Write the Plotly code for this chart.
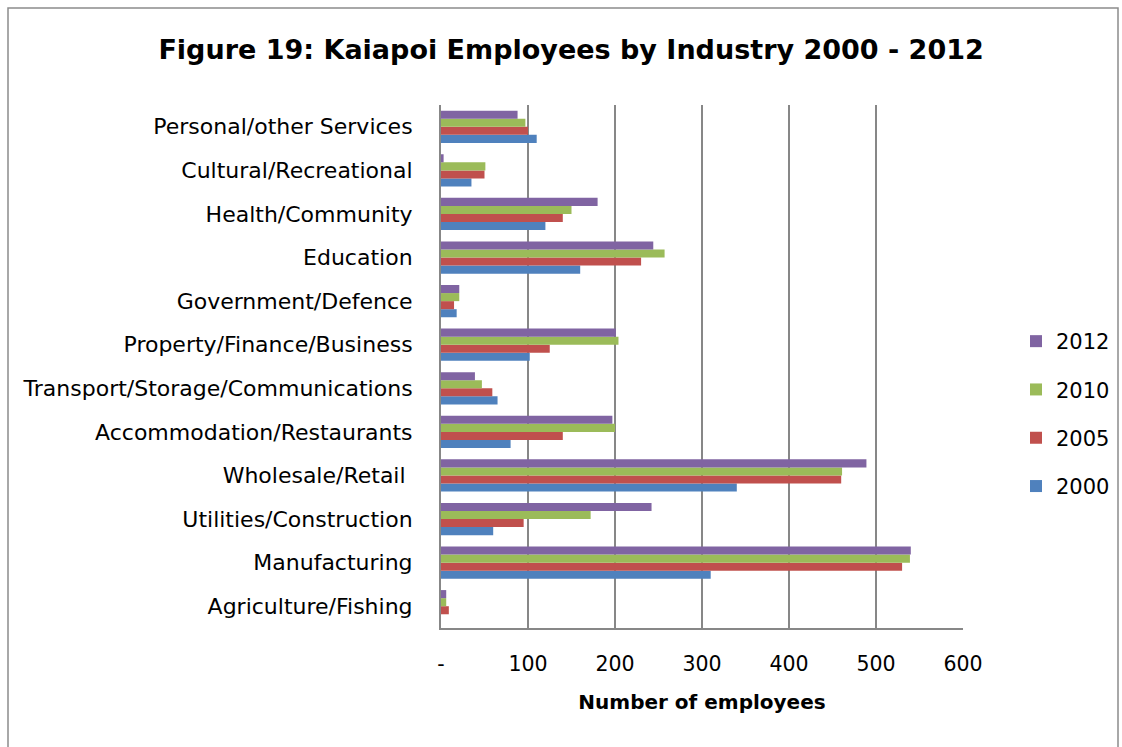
import plotly.graph_objects as go

# Industries, listed top to bottom as they appear on the chart
industries = [
    "Personal/other Services",
    "Cultural/Recreational",
    "Health/Community",
    "Education",
    "Government/Defence",
    "Property/Finance/Business",
    "Transport/Storage/Communications",
    "Accommodation/Restaurants",
    "Wholesale/Retail ",
    "Utilities/Construction",
    "Manufacturing",
    "Agriculture/Fishing",
]

# Employee counts per year (same order as industries)
emp_2000 = [110, 35, 120, 160, 18, 102, 65, 80, 340, 60, 310, 0]
emp_2005 = [100, 50, 140, 230, 15, 125, 59, 140, 460, 95, 530, 9]
emp_2010 = [97, 51, 150, 257, 21, 204, 47, 200, 461, 172, 539, 6]
emp_2012 = [88, 3, 180, 244, 21, 201, 39, 197, 489, 242, 540, 6]

years = ["2000", "2005", "2010", "2012"]
series = [emp_2000, emp_2005, emp_2010, emp_2012]
colors = ["#4F81BD", "#C0504D", "#9BBB59", "#8064A2"]

tick_vals = [0, 100, 200, 300, 400, 500, 600]
tick_text = ["-", "100", "200", "300", "400", "500", "600"]

fig = go.Figure()
for i, (year, vals, col) in enumerate(zip(years, series, colors)):
    fig.add_trace(go.Bar(
        y=industries, x=vals, name=year, orientation="h",
        marker=dict(color=col, line=dict(width=0)),
        legendgroup=year, legendrank=len(years) - i,
    ))

# plot area in pixels
L, R, T, B = 441, 963, 105, 628
W, H = 1122, 747
pw, ph = R - L, B - T

def px_x(p):
    return (p - L) / pw

def px_y(p):
    return (B - p) / ph

fig.update_layout(
    width=W, height=H,
    margin=dict(l=L, r=W - R, t=T, b=H - B, pad=0, autoexpand=False),
    paper_bgcolor="white", plot_bgcolor="white",
    barmode="group", bargap=0.26, bargroupgap=0,
    font=dict(family="DejaVu Sans", color="#000000"),
    title=dict(
        text="<b>Figure 19: Kaiapoi Employees by Industry 2000 - 2012</b>",
        x=0.509, xanchor="center", y=1 - 50 / H, yanchor="middle",
        font=dict(family="DejaVu Sans", size=27, color="#000000"),
    ),
    legend=dict(
        x=px_x(1016), xanchor="left", y=px_y(414), yanchor="middle",
        traceorder="grouped", tracegroupgap=18,
        font=dict(size=21), bgcolor="rgba(0,0,0,0)",
        itemwidth=30,
    ),
    shapes=[dict(
        type="rect", xref="paper", yref="paper",
        x0=px_x(8), x1=px_x(1118), y0=px_y(760), y1=px_y(8),
        line=dict(color="#8c8c8c", width=1.5), fillcolor="rgba(0,0,0,0)",
        layer="below",
    )],
)

fig.update_xaxes(
    range=[0, 600], tickvals=tick_vals, ticktext=tick_text,
    showgrid=True, gridcolor="#878787", gridwidth=2,
    showline=True, linecolor="#878787", linewidth=2,
    zeroline=False, ticks="", ticklabelstandoff=16,
    tickfont=dict(size=20.5),
    title=dict(text="<b>Number of employees</b>", font=dict(size=20), standoff=20),
)
fig.update_yaxes(
    categoryorder="array", categoryarray=industries[::-1],
    showgrid=False, showline=True, linecolor="#878787", linewidth=2,
    ticks="", ticklabelstandoff=22, tickfont=dict(size=22),
)

fig.write_html("out.html")
